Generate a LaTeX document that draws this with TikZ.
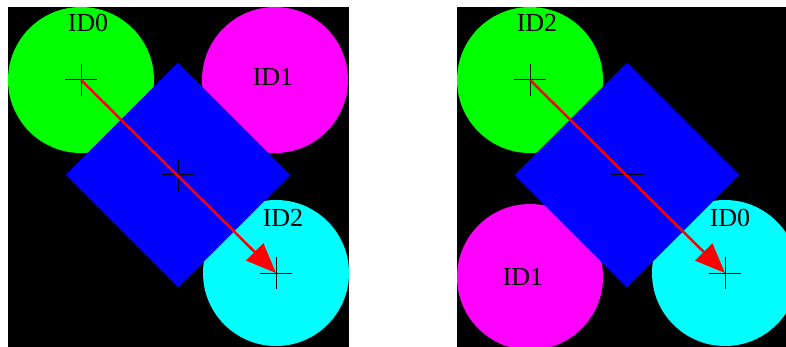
\documentclass[tikz,border=0pt]{standalone}
\usepackage{fontspec}
\setmainfont{Liberation Serif}
\usetikzlibrary{arrows.meta,shapes.geometric}
\definecolor{vertpur}{RGB}{0,255,0}
\definecolor{magentapur}{RGB}{255,0,255}
\definecolor{cyanpur}{RGB}{0,255,255}
\definecolor{bleupur}{RGB}{0,0,255}
\definecolor{rougepur}{RGB}{255,0,0}
\tikzset{
  fond/.style={fill=black},
  cible/.style={circle, inner sep=0pt, minimum size=146pt, fill=#1},
  losange/.style={diamond, inner sep=0pt, minimum width=225pt, minimum height=225pt, fill=bleupur},
  fleche/.style={-{Triangle[length=30pt,width=24pt]}, line width=2.5pt, draw=rougepur},
  croix/.style={draw=black, line width=1pt},
  etiquette/.style={inner sep=0pt, font=\fontsize{26}{26}\selectfont},
}

\begin{document}
\begin{tikzpicture}[x=1pt, y=-1pt]
    \clip (0,0) rectangle (786,347);
    \fill[white] (0,0) rectangle (786,347);
    % Partie 1 : image de gauche
    \fill[fond] (8,7) rectangle (349,347);
    \node[cible=vertpur]    (g0) at (81,80)   {};
    \node[cible=magentapur] (g1) at (275,80)  {};
    \node[cible=cyanpur]    (g2) at (276,273) {};
    \node[losange]          (gc) at (178,175) {};
    \node[etiquette] (tg0) at (88,23)   {ID0};
    \node[etiquette] (tg1) at (273,77)  {ID1};
    \node[etiquette] (tg2) at (283,218) {ID2};
    % Partie 2 : image de droite
    \fill[fond] (457,7) rectangle (798,347);
    \node[cible=vertpur]    (d2) at (530,80)  {};
    \node[cible=magentapur] (d1) at (530,277) {};
    \node[cible=cyanpur]    (d0) at (725,273) {};
    \node[losange]          (dc) at (627,175) {};
    \node[etiquette] (td2) at (537,23)  {ID2};
    \node[etiquette] (td1) at (523,277) {ID1};
    \node[etiquette] (td0) at (730,218) {ID0};
    % Croix
    \foreach \n in {g0,g2,gc,d2,d0,dc}
      \draw[croix] (\n.center) +(-16,0) -- +(16,0) (\n.center) +(0,-16) -- +(0,16);
    % Flèches
    \draw[fleche] (g0.center) -- (g2.center);
    \draw[fleche] (d2.center) -- (d0.center);
  \end{tikzpicture}
\end{document}
